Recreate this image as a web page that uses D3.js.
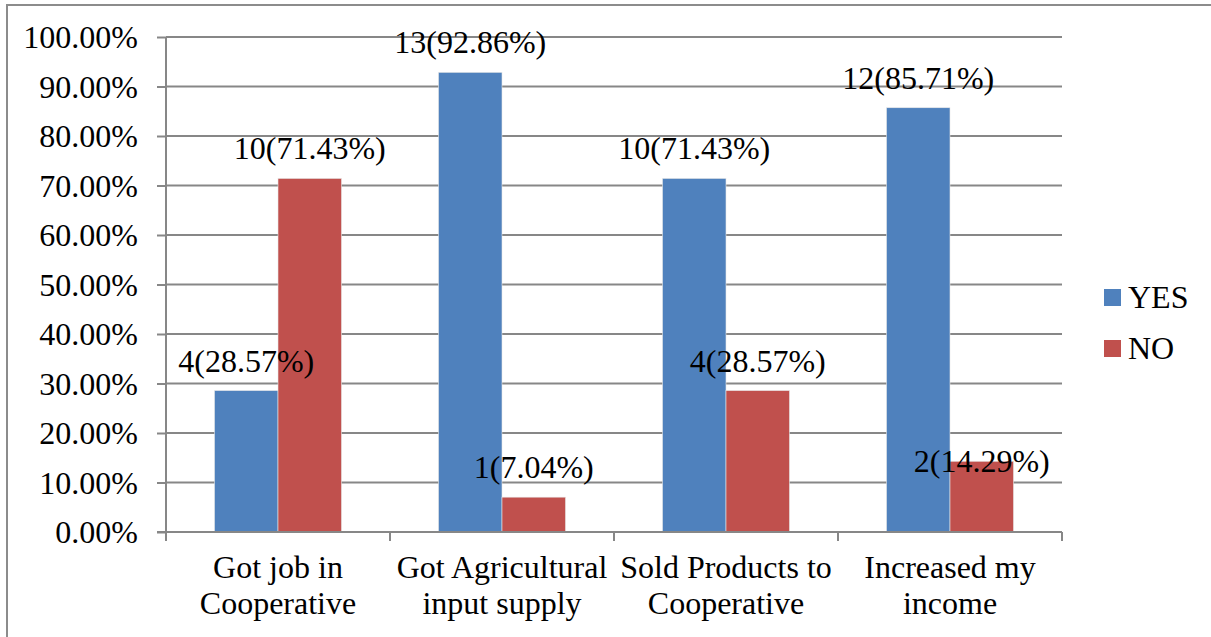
<!DOCTYPE html>
<html>
<head>
<meta charset="utf-8">
<script src="https://cdn.jsdelivr.net/npm/d3@7"></script>
<style>
  body { margin: 0; background: #fff; }
</style>
</head>
<body>
<script>
const categories = [
  ["Got job in", "Cooperative"],
  ["Got Agricultural", "input supply"],
  ["Sold Products to", "Cooperative"],
  ["Increased my", "income"]
];
const seriesNames = ["YES", "NO"];
const yesValues = [28.57, 92.86, 71.43, 85.71];
const noValues = [71.43, 7.04, 28.57, 14.29];
const yesCounts = [4, 13, 10, 12];
const noCounts = [10, 1, 4, 2];
const yTicks = [0, 10, 20, 30, 40, 50, 60, 70, 80, 90, 100];

const w = 1211;
const h = 637;
const colors = { YES: "#4F81BD", NO: "#C0504D" };
const gridColor = "#878787";
const font = "Liberation Serif";
const fontSize = 32;

const svg = d3.select("body").append("svg")
  .attr("width", w).attr("height", h);

// outer frame (only left and top edges are visible in the picture)
svg.append("rect")
  .attr("x", 7).attr("y", 5)
  .attr("width", w).attr("height", h)
  .attr("fill", "none").attr("stroke", "#8c8c8c").attr("stroke-width", 2);

const plotLeft = 166, plotRight = 1062, plotTop = 37, plotBottom = 532;

const xScale = d3.scaleBand()
  .domain(d3.range(categories.length))
  .range([plotLeft, plotRight])
  .padding(0);
const gap = 48.5;
const xInner = d3.scaleBand()
  .domain(seriesNames)
  .range([gap, xScale.bandwidth() - gap]);
const yScale = d3.scaleLinear().domain([0, 100]).range([plotBottom, plotTop]);

// gridlines
svg.append("g")
  .selectAll("line")
  .data(yTicks.slice(1))
  .enter()
  .append("line")
  .attr("x1", plotLeft).attr("x2", plotRight)
  .attr("y1", (d) => yScale(d)).attr("y2", (d) => yScale(d))
  .attr("stroke", gridColor).attr("stroke-width", 2);

// y axis
const yAxis = d3.axisLeft(yScale)
  .tickValues(yTicks)
  .tickSize(9)
  .tickPadding(19)
  .tickFormat((d) => d.toFixed(2) + "%");
const yG = svg.append("g").attr("transform", `translate(${plotLeft},0)`).call(yAxis);
yG.select(".domain").remove();
yG.append("line").attr("x1", 0).attr("x2", 0).attr("y1", plotTop).attr("y2", plotBottom)
  .attr("stroke", gridColor).attr("stroke-width", 2);
yG.selectAll(".tick line").attr("stroke", gridColor).attr("stroke-width", 2);
yG.selectAll(".tick text")
  .attr("font-family", font)
  .attr("font-size", fontSize)
  .attr("fill", "#000")
  .attr("dy", "0.34em");

// bars
const rows = categories.map((c, i) => ({
  i,
  values: [
    { key: "YES", v: yesValues[i], n: yesCounts[i] },
    { key: "NO", v: noValues[i], n: noCounts[i] }
  ]
}));

const groups = svg.append("g")
  .selectAll("g")
  .data(rows)
  .enter()
  .append("g")
  .attr("transform", (d) => `translate(${xScale(d.i)},0)`);

groups.selectAll("rect")
  .data((d) => d.values)
  .enter()
  .append("rect")
  .attr("x", (d) => xInner(d.key))
  .attr("y", (d) => yScale(d.v))
  .attr("width", xInner.bandwidth())
  .attr("height", (d) => plotBottom - yScale(d.v))
  .attr("fill", (d) => colors[d.key])
  .attr("stroke", "#e8e8e8")
  .attr("stroke-width", 0.6);

// x axis line and ticks at category boundaries
const xG = svg.append("g");
xG.append("line").attr("x1", plotLeft - 9).attr("x2", plotRight).attr("y1", plotBottom).attr("y2", plotBottom)
  .attr("stroke", gridColor).attr("stroke-width", 2);
xG.selectAll("line.tk")
  .data(d3.range(categories.length + 1))
  .enter()
  .append("line")
  .attr("class", "tk")
  .attr("x1", (d) => (d < categories.length ? xScale(d) : plotRight))
  .attr("x2", (d) => (d < categories.length ? xScale(d) : plotRight))
  .attr("y1", plotBottom).attr("y2", plotBottom + 9)
  .attr("stroke", gridColor).attr("stroke-width", 2);

// category labels, one text per line
categories.forEach((lines, i) => {
  svg.append("g")
    .selectAll("text")
    .data(lines)
    .enter()
    .append("text")
    .attr("font-family", font)
    .attr("font-size", fontSize)
    .attr("text-anchor", "middle")
    .attr("x", xScale(i) + xScale.bandwidth() / 2)
    .attr("y", (d, j) => 578 + j * 36)
    .text((d) => d);
});

// data labels (the NO label of the last group sits lower, as in the original)
const labelShift = { "3-NO": 30 };
groups.each(function (row) {
  d3.select(this).selectAll("text")
    .data(row.values)
    .enter()
    .append("text")
    .attr("font-family", font)
    .attr("font-size", fontSize)
    .attr("text-anchor", "middle")
    .attr("x", (d) => xInner(d.key) + xInner.bandwidth() / 2)
    .attr("y", (d) => yScale(d.v) - 19 + (labelShift[row.i + "-" + d.key] || 0))
    .text((d) => `${d.n}(${d.v.toFixed(2)}%)`);
});

// legend
const legend = svg.append("g")
  .selectAll("g")
  .data(seriesNames)
  .enter()
  .append("g")
  .attr("transform", (d, i) => `translate(1104,${289 + i * 51})`);
legend.append("rect")
  .attr("width", 17).attr("height", 17)
  .attr("fill", (d) => colors[d]);
legend.append("text")
  .attr("font-family", font)
  .attr("font-size", fontSize)
  .attr("x", 24).attr("y", 19)
  .text((d) => d);
</script>
</body>
</html>
